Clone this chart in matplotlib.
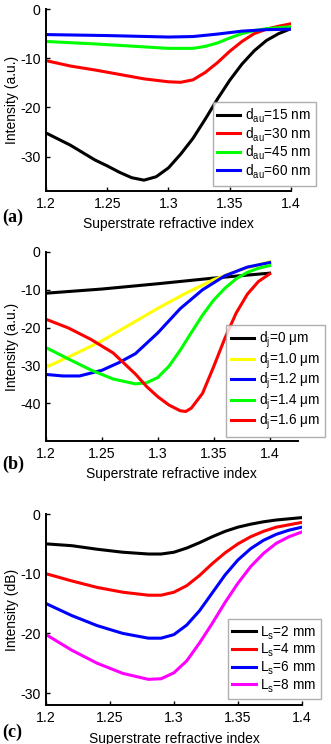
import numpy as np
import matplotlib
matplotlib.use("Agg")
import matplotlib.pyplot as plt
from matplotlib import _mathtext

plt.rcParams['font.family'] = ['Liberation Sans', 'DejaVu Sans']
plt.rcParams['mathtext.fontset'] = 'custom'
plt.rcParams['mathtext.rm'] = 'Liberation Sans'
plt.rcParams['mathtext.it'] = 'Liberation Sans'
# MATLAB puts subscripts lower than mathtext does
_mathtext.FontConstantsBase.sub1 = 0.45

# ---- panel (a): gold thickness ----
a_x_black = [1.20, 1.22, 1.24, 1.25, 1.26, 1.27, 1.28, 1.29, 1.30, 1.31, 1.32, 1.33, 1.34, 1.35, 1.36, 1.37, 1.38, 1.39, 1.40]
a_black = [-25.2, -27.7, -30.7, -31.9, -33.2, -34.3, -34.8, -34.1, -32.3, -29.5, -26.3, -22.4, -18.3, -14.5, -11.2, -8.5, -6.4, -5.0, -4.0]
a_x_red = [1.20, 1.22, 1.24, 1.26, 1.28, 1.30, 1.31, 1.32, 1.33, 1.34, 1.35, 1.36, 1.37, 1.38, 1.39, 1.40]
a_red = [-10.5, -11.6, -12.4, -13.3, -14.2, -14.8, -14.9, -14.4, -12.9, -10.9, -8.6, -6.6, -5.0, -4.1, -3.5, -3.0]
a_x_green = [1.20, 1.24, 1.28, 1.30, 1.32, 1.33, 1.34, 1.35, 1.36, 1.37, 1.38, 1.40]
a_green = [-6.6, -7.1, -7.7, -8.0, -8.0, -7.6, -6.9, -5.9, -5.0, -4.4, -4.0, -3.6]
a_x_blue = [1.20, 1.25, 1.30, 1.32, 1.34, 1.36, 1.38, 1.40]
a_blue = [-5.2, -5.4, -5.7, -5.6, -5.1, -4.5, -4.2, -4.1]
a_labels = [r'd$_{\mathregular{au}}$=15 nm', r'd$_{\mathregular{au}}$=30 nm',
            r'd$_{\mathregular{au}}$=45 nm', r'd$_{\mathregular{au}}$=60 nm']

# ---- panel (b): d_j ----
b_x_black = [1.20, 1.25, 1.30, 1.35, 1.40]
b_black = [-10.9, -9.8, -8.4, -6.9, -5.6]
b_x_yellow = [1.20, 1.225, 1.25, 1.275, 1.30, 1.325, 1.35, 1.375, 1.40]
b_yellow = [-30.5, -27.1, -23.5, -19.2, -14.9, -10.9, -7.3, -4.6, -2.6]
b_x_blue = [1.20, 1.215, 1.23, 1.25, 1.265, 1.28, 1.30, 1.32, 1.34, 1.36, 1.38, 1.40]
b_blue = [-32.4, -32.8, -32.8, -31.3, -29.3, -26.9, -21.4, -15.0, -10.0, -6.3, -4.0, -2.8]
b_x_green = [1.20, 1.22, 1.24, 1.26, 1.28, 1.29, 1.30, 1.31, 1.32, 1.33, 1.34, 1.35, 1.36, 1.37, 1.38, 1.39, 1.40]
b_green = [-25.3, -28.3, -31.2, -33.6, -34.9, -34.6, -33.2, -30.2, -26.0, -21.3, -16.7, -12.7, -9.6, -7.1, -5.4, -4.3, -3.6]
b_x_red = [1.20, 1.22, 1.24, 1.26, 1.28, 1.29, 1.30, 1.31, 1.32, 1.325, 1.33, 1.34, 1.35, 1.36, 1.37, 1.38, 1.39, 1.40]
b_red = [-17.8, -20.1, -23.1, -26.7, -32.3, -35.6, -38.3, -40.5, -42.0, -42.2, -41.3, -37.4, -30.3, -22.8, -16.2, -11.2, -7.8, -5.8]
b_labels = [r'd$_{\mathregular{j}}$=0 μm', r'd$_{\mathregular{j}}$=1.0 μm', r'd$_{\mathregular{j}}$=1.2 μm',
            r'd$_{\mathregular{j}}$=1.4 μm', r'd$_{\mathregular{j}}$=1.6 μm']

# ---- panel (c): L_s ----
c_x = [1.20, 1.22, 1.24, 1.26, 1.28, 1.29, 1.30, 1.31, 1.32, 1.33, 1.34, 1.35, 1.36, 1.37, 1.38, 1.39, 1.40]
c_black = [-5.0, -5.3, -5.9, -6.4, -6.7, -6.7, -6.4, -5.7, -4.8, -3.8, -2.9, -2.2, -1.7, -1.3, -1.0, -0.8, -0.6]
c_red = [-10.0, -11.2, -12.3, -13.1, -13.6, -13.6, -13.1, -12.0, -10.3, -8.3, -6.5, -5.0, -3.8, -2.9, -2.2, -1.8, -1.4]
c_blue = [-15.0, -17.0, -18.7, -20.0, -20.8, -20.8, -20.2, -18.6, -16.2, -13.2, -10.2, -7.7, -5.8, -4.4, -3.4, -2.7, -2.2]
c_magenta = [-20.2, -22.8, -25.0, -26.7, -27.7, -27.6, -26.6, -24.6, -21.6, -18.3, -14.8, -11.6, -8.8, -6.6, -4.9, -3.8, -3.0]
c_labels = [r'L$_{\mathregular{s}}$=2 mm', r'L$_{\mathregular{s}}$=4 mm',
            r'L$_{\mathregular{s}}$=6 mm', r'L$_{\mathregular{s}}$=8 mm']

xticks = [1.2, 1.25, 1.3, 1.35, 1.4]
xtick_labels = ['1.2', '1.25', '1.3', '1.35', '1.4']
FS = 10.2
LW = 2.2


def style_axes(ax, xlim, ylim, yticks, ylabel):
    ax.set_xlim(*xlim)
    ax.set_ylim(*ylim)
    ax.set_xticks(xticks)
    ax.set_xticklabels(xtick_labels)
    ax.set_yticks(yticks)
    ax.set_yticklabels([str(t) for t in yticks])
    for s in ['top', 'right']:
        ax.spines[s].set_visible(False)
    for s in ['left', 'bottom']:
        ax.spines[s].set_linewidth(1.4)
    ax.tick_params(direction='in', length=3, width=1, labelsize=FS, pad=4)
    ax.set_xlabel('Superstrate refractive index', fontsize=10, labelpad=5)
    ax.set_ylabel(ylabel, fontsize=10, labelpad=1)


def add_legend(ax, bbox):
    leg = ax.legend(loc='lower left', bbox_to_anchor=bbox, fontsize=9.8,
                    frameon=True, fancybox=False, handlelength=1.7,
                    handletextpad=0.35, labelspacing=0.0, borderpad=0.35,
                    borderaxespad=0)
    leg.get_frame().set_edgecolor('#9a9a9a')
    leg.get_frame().set_linewidth(1.0)
    return leg


fig = plt.figure(figsize=(3.31, 7.44), dpi=100)

# (a)
ax1 = fig.add_axes([0.139, 0.7433, 0.740, 0.2446])
ax1.plot(a_x_black, a_black, color='black', lw=LW, label=a_labels[0])
ax1.plot(a_x_red, a_red, color='#ff0000', lw=LW, label=a_labels[1])
ax1.plot(a_x_green, a_green, color='#00ff00', lw=LW, label=a_labels[2])
ax1.plot(a_x_blue, a_blue, color='#0000ff', lw=LW, label=a_labels[3])
style_axes(ax1, (1.2, 1.4), (-37, 0), [-30, -20, -10, 0], 'Intensity (a.u.)')
add_legend(ax1, (0.68, 0.03))

# (b)
ax2 = fig.add_axes([0.139, 0.4073, 0.760, 0.254])
ax2.plot(b_x_black, b_black, color='black', lw=LW, label=b_labels[0])
ax2.plot(b_x_yellow, b_yellow, color='#ffff00', lw=LW, label=b_labels[1])
ax2.plot(b_x_blue, b_blue, color='#0000ff', lw=LW, label=b_labels[2])
ax2.plot(b_x_green, b_green, color='#00ff00', lw=LW, label=b_labels[3])
ax2.plot(b_x_red, b_red, color='#ff0000', lw=LW, label=b_labels[4])
style_axes(ax2, (1.2, 1.425), (-50, 0), [-40, -30, -20, -10, 0], 'Intensity (a.u.)')
add_legend(ax2, (0.715, 0.02))

# (c)
ax3 = fig.add_axes([0.139, 0.0524, 0.773, 0.2567])
ax3.plot(c_x, c_black, color='black', lw=LW, label=c_labels[0])
ax3.plot(c_x, c_red, color='#ff0000', lw=LW, label=c_labels[1])
ax3.plot(c_x, c_blue, color='#0000ff', lw=LW, label=c_labels[2])
ax3.plot(c_x, c_magenta, color='#ff00ff', lw=LW, label=c_labels[3])
style_axes(ax3, (1.2, 1.4), (-32, 0), [-30, -20, -10, 0], 'Intensity (dB)')
add_legend(ax3, (0.71, 0.03))

for lab, y in [('(a)', 1 - 222 / 744), ('(b)', 1 - 469 / 744), ('(c)', 1 - 737 / 744)]:
    fig.text(0.006, y, lab, fontsize=13, fontweight='bold', family='Liberation Serif',
             ha='left', va='baseline')

fig.savefig('out.png', dpi=100)
